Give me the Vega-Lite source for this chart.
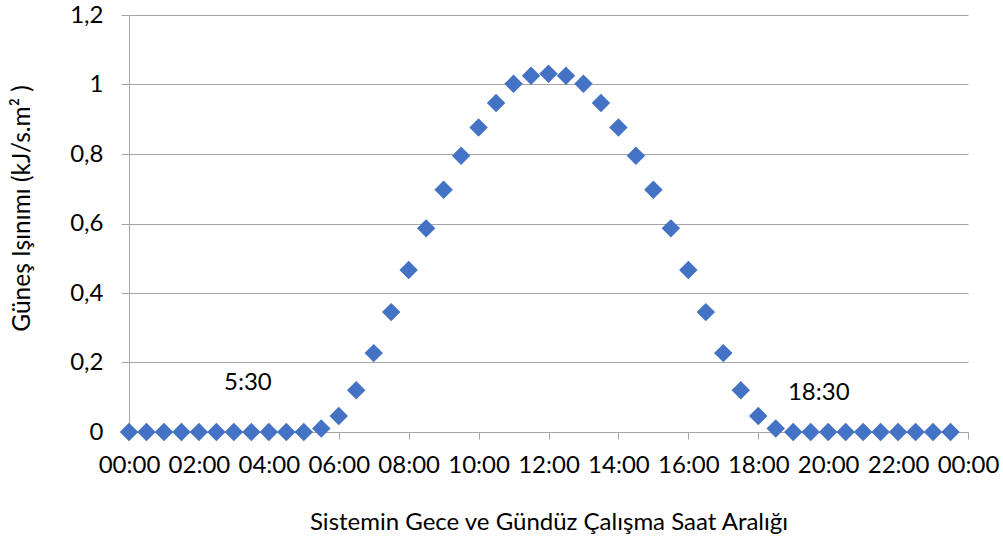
{
  "$schema": "https://vega.github.io/schema/vega-lite/v6.json",
  "width": 839,
  "height": 417,
  "autosize": {"type": "none"},
  "padding": {"left": 129, "top": 15, "right": 35, "bottom": 110},
  "background": "white",
  "config": {
    "view": {"stroke": null},
    "font": "Lato"
  },
  "datasets": {
    "pts": [
      {"hour": 0, "value": 0}, {"hour": 0.5, "value": 0}, {"hour": 1, "value": 0}, {"hour": 1.5, "value": 0},
      {"hour": 2, "value": 0}, {"hour": 2.5, "value": 0}, {"hour": 3, "value": 0}, {"hour": 3.5, "value": 0},
      {"hour": 4, "value": 0}, {"hour": 4.5, "value": 0}, {"hour": 5, "value": 0}, {"hour": 5.5, "value": 0.01},
      {"hour": 6, "value": 0.046}, {"hour": 6.5, "value": 0.12}, {"hour": 7, "value": 0.227}, {"hour": 7.5, "value": 0.345},
      {"hour": 8, "value": 0.466}, {"hour": 8.5, "value": 0.586}, {"hour": 9, "value": 0.697}, {"hour": 9.5, "value": 0.795},
      {"hour": 10, "value": 0.876}, {"hour": 10.5, "value": 0.947}, {"hour": 11, "value": 1.002}, {"hour": 11.5, "value": 1.025},
      {"hour": 12, "value": 1.031}, {"hour": 12.5, "value": 1.025}, {"hour": 13, "value": 1.002}, {"hour": 13.5, "value": 0.947},
      {"hour": 14, "value": 0.876}, {"hour": 14.5, "value": 0.795}, {"hour": 15, "value": 0.697}, {"hour": 15.5, "value": 0.586},
      {"hour": 16, "value": 0.466}, {"hour": 16.5, "value": 0.345}, {"hour": 17, "value": 0.227}, {"hour": 17.5, "value": 0.12},
      {"hour": 18, "value": 0.046}, {"hour": 18.5, "value": 0.01}, {"hour": 19, "value": 0}, {"hour": 19.5, "value": 0},
      {"hour": 20, "value": 0}, {"hour": 20.5, "value": 0}, {"hour": 21, "value": 0}, {"hour": 21.5, "value": 0},
      {"hour": 22, "value": 0}, {"hour": 22.5, "value": 0}, {"hour": 23, "value": 0}, {"hour": 23.5, "value": 0}
    ],
    "notes": [
      {"hour": 3.4, "value": 0.141, "label": "5:30"},
      {"hour": 19.73, "value": 0.112, "label": "18:30"}
    ]
  },
  "encoding": {
    "x": {
      "field": "hour", "type": "quantitative",
      "scale": {"domain": [0, 24], "nice": false, "zero": false},
      "axis": {
        "values": [0, 2, 4, 6, 8, 10, 12, 14, 16, 18, 20, 22, 24],
        "labelExpr": "(datum.value % 24 < 10 ? '0' : '') + (datum.value % 24) + ':00'",
        "grid": false,
        "domainColor": "#A6A6A6", "tickColor": "#A6A6A6", "tickSize": 7,
        "labelFontSize": 24, "labelColor": "#000000", "labelPadding": 14,
        "labelFlush": false, "labelOverlap": false,
        "title": "Sistemin Gece ve Gündüz Çalışma Saat Aralığı",
        "titleFontSize": 24, "titleFontWeight": "normal", "titleColor": "#000000",
        "titlePadding": 33
      }
    },
    "y": {
      "field": "value", "type": "quantitative",
      "scale": {"domain": [0, 1.2], "nice": false},
      "axis": {
        "values": [0, 0.2, 0.4, 0.6, 0.8, 1, 1.2],
        "labelExpr": "replace(format(datum.value, '~g'), '.', ',')",
        "gridColor": "#A6A6A6", "domainColor": "#A6A6A6", "tickColor": "#A6A6A6", "tickSize": 8,
        "labelFontSize": 24, "labelColor": "#000000", "labelPadding": 18,
        "title": "Güneş Işınımı (kJ/s.m² )",
        "titleFontSize": 24.5, "titleFontWeight": "normal", "titleColor": "#000000",
        "titleX": -107, "titleY": 193, "titleAngle": -90, "titleBaseline": "middle", "titleAlign": "center"
      }
    }
  },
  "layer": [
    {
      "data": {"name": "pts"},
      "mark": {"type": "point", "shape": "diamond", "filled": true, "size": 340, "color": "#4472C4", "opacity": 1}
    },
    {
      "data": {"name": "notes"},
      "mark": {"type": "text", "fontSize": 24, "color": "#000000", "align": "center", "baseline": "middle"},
      "encoding": {"text": {"field": "label"}}
    }
  ]
}
